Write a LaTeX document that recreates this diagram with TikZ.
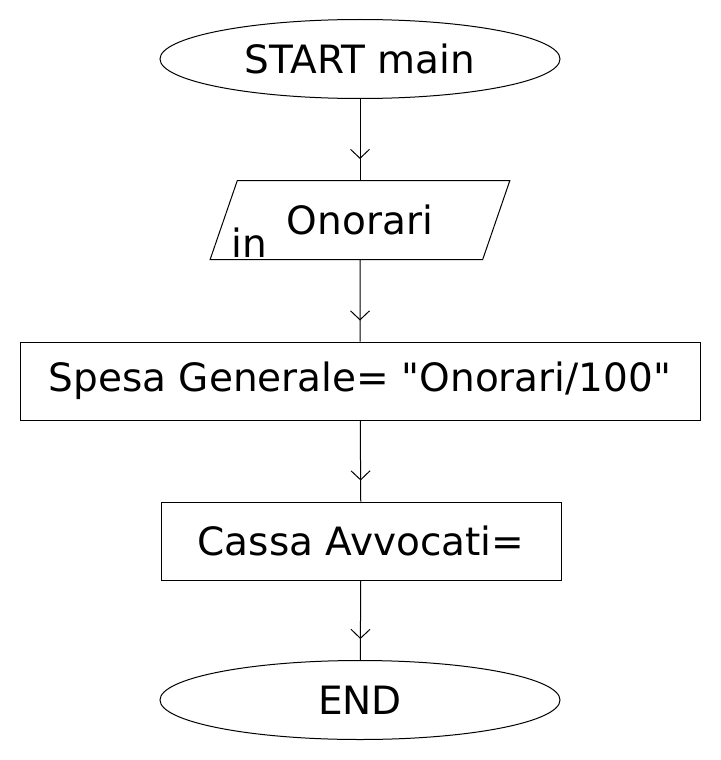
\documentclass[tikz,border=0pt]{standalone}
\usepackage{fontspec}
\setmainfont{DejaVu Sans}
\usetikzlibrary{shapes.geometric,arrows.meta,decorations.markings}

\begin{document}
\begin{tikzpicture}[
        x=1pt, y=-1pt,
        every node/.style={font=\fontsize{39}{44}\selectfont, line width=1pt},
        terminal/.style={draw, ellipse, minimum width=400pt, minimum height=79pt, inner sep=0pt},
        iobox/.style={draw, trapezium, trapezium left angle=63, trapezium right angle=117,
            trapezium stretches=true, minimum width=300pt, minimum height=79pt, inner sep=1pt},
        procbox/.style={draw, rectangle, minimum height=78pt, inner sep=0pt},
        flow/.style={line width=1pt, postaction={decorate}, decoration={markings,
            mark=at position -21pt with {\arrow{Straight Barb[length=9pt,width=19pt,line width=1pt]}}}}
    ]
    \useasboundingbox (0,0) rectangle (720,760);

    % Blocks
    \node[terminal] (start) at (360,59) {START main};
    \node[iobox] (inp) at (360,220) {Onorari};
    \node[anchor=base west, inner sep=0pt] (inlbl) at (231,257) {in};
    \node[procbox, minimum width=680pt] (spesa) at (360,381) {Spesa Generale= \textquotedbl Onorari/100\textquotedbl};
    \node[procbox, minimum width=400pt] (cassa) at (361,541) {Cassa Avvocati=};
    \node[terminal] (end) at (360,700) {END};

    % Flow
    \draw[flow] (start) -- (inp);
    \draw[flow] (inp) -- (spesa);
    \draw[flow] (spesa) -- (cassa);
    \draw[flow] (cassa) -- (end);

\end{tikzpicture}
\end{document}
